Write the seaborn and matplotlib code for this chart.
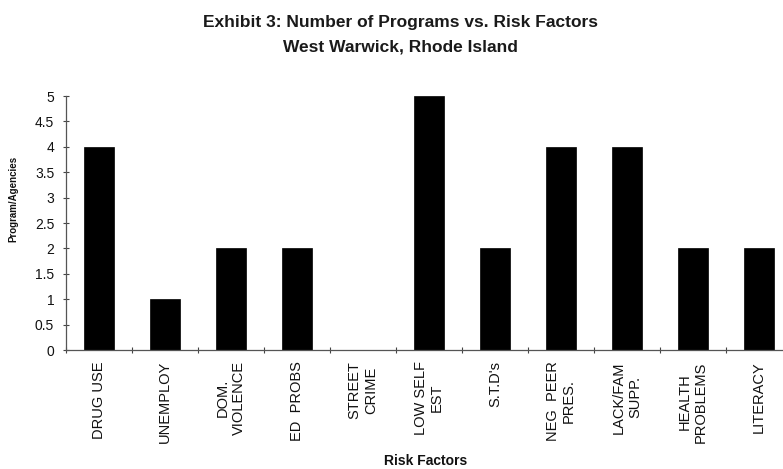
import matplotlib
matplotlib.use("Agg")
import matplotlib.pyplot as plt
from matplotlib.ticker import FixedLocator
import numpy as np
import pandas as pd
import seaborn as sns

# Risk factors and number of programs/agencies addressing each
risk_factors = [
    "DRUG USE", "UNEMPLOY", "DOM.\nVIOLENCE", "ED  PROBS", "STREET\nCRIME",
    "LOW SELF\nEST", "S.T.D's", "NEG  PEER\nPRES.", "LACK/FAM\nSUPP.",
    "HEALTH\nPROBLEMS", "LITERACY",
]
programs = [4, 1, 2, 2, 0, 5, 2, 4, 4, 2, 2]
y_ticks = [0, 0.5, 1, 1.5, 2, 2.5, 3, 3.5, 4, 4.5, 5]

sns.set_theme(style="white")
plt.rcParams["font.family"] = ["Liberation Sans", "DejaVu Sans"]

df = pd.DataFrame({"factor": risk_factors, "count": programs})

fig = plt.figure(figsize=(7.83, 4.69), dpi=100)
ax = fig.add_axes([0.0843, 0.2537, 0.927, 0.5415])

sns.barplot(data=df, x="factor", y="count", color="black", width=0.45,
            saturation=1, ax=ax, edgecolor="black", linewidth=0.5)

ax.set_ylim(0, 5)
ax.set_xlim(-0.5, len(risk_factors) - 0.5)

ax.yaxis.set_major_locator(FixedLocator(y_ticks))
ax.set_yticklabels([("%g" % v) for v in y_ticks], fontsize=10, color="#111111")
ax.tick_params(axis="y", direction="inout", length=5, width=0.8, color="#444444",
               pad=6, left=True)

# Category boundary ticks on the x axis, labels centred under each bar
ax.set_xticks(np.arange(len(risk_factors)))
ax.set_xticklabels(risk_factors, rotation=90, fontsize=10.5, ha="center",
                   va="top", multialignment="center", color="#111111")
ax.tick_params(axis="x", which="major", length=0, pad=8)
ax.xaxis.set_minor_locator(FixedLocator(np.arange(-0.5, len(risk_factors), 1.0)))
ax.tick_params(axis="x", which="minor", direction="inout", length=5, width=0.8,
               color="#444444", bottom=True)

for side in ["top", "right"]:
    ax.spines[side].set_visible(False)
for side in ["left", "bottom"]:
    ax.spines[side].set_color("#555555")
    ax.spines[side].set_linewidth(0.9)

ax.set_xlabel("Risk Factors", fontsize=10, fontweight="bold", color="#111111")
ax.xaxis.set_label_coords(0.496, -0.41)
ax.set_ylabel("Program/Agencies", fontsize=7, fontweight="bold", color="#111111")
ax.yaxis.set_label_coords(-0.066, 0.594)

fig.text(0.511, 0.953, "Exhibit 3: Number of Programs vs. Risk Factors",
         ha="center", va="center", fontsize=12.5, fontweight="bold", color="#1a1a1a")
fig.text(0.511, 0.900, "West Warwick, Rhode Island",
         ha="center", va="center", fontsize=12.5, fontweight="bold", color="#1a1a1a")

fig.savefig("out.png", dpi=100, facecolor="white")
